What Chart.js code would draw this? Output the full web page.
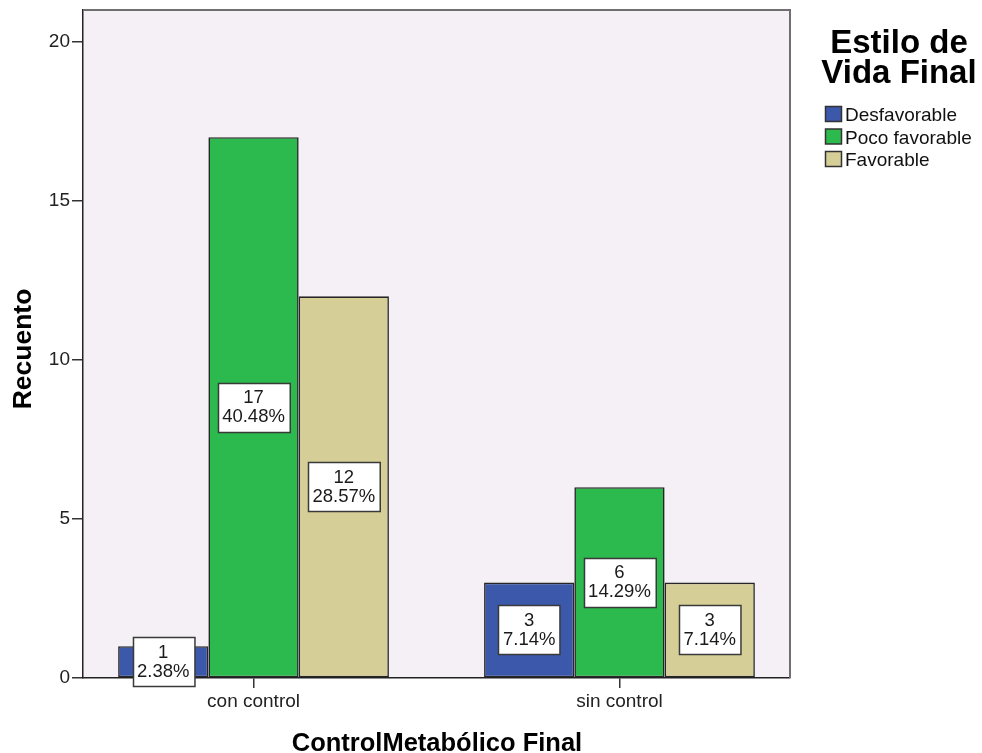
<!DOCTYPE html>
<html>
<head>
<meta charset="utf-8">
<title>Estilo de Vida Final</title>
<script src="https://cdn.jsdelivr.net/npm/chart.js@4/dist/chart.umd.min.js"></script>
<style>
  body { margin: 0; background: #fff; }
  #wrap { width: 982px; height: 753px; }
</style>
</head>
<body>
<div id="wrap"><canvas id="grafico" width="982" height="753"></canvas></div>
<script>
// Datos: recuento por control metabólico y estilo de vida
const categorias = ['con control', 'sin control'];
const desfavorable = [1, 3];
const pocoFavorable = [17, 6];
const favorable = [12, 3];
const yTicks = [0, 5, 10, 15, 20];

const FUENTE = "'Liberation Sans', Arial, sans-serif";
const total = [...desfavorable, ...pocoFavorable, ...favorable].reduce((a, b) => a + b, 0);

// cada serie como puntos {x, y} sobre un eje lineal (0 y 1 = categorías)
function puntos(valores) {
    return valores.map((v, i) => ({ x: i, y: v }));
}

const series = [
    { label: 'Desfavorable', data: puntos(desfavorable), color: '#3b58ab' },
    { label: 'Poco favorable', data: puntos(pocoFavorable), color: '#2cb94d' },
    { label: 'Favorable', data: puntos(favorable), color: '#d6ce97' }
];

// fondo del área de gráfico y marco superior/derecho
const fondoPlugin = {
    id: 'fondo',
    beforeDraw(chart) {
        const { ctx, chartArea: a } = chart;
        ctx.save();
        ctx.fillStyle = '#f5f0f5';
        ctx.fillRect(a.left, a.top, a.right - a.left, a.bottom - a.top);
        ctx.restore();
    },
    afterDraw(chart) {
        const { ctx, chartArea: a } = chart;
        ctx.save();
        ctx.strokeStyle = '#6f6f6f';
        ctx.lineWidth = 2;
        ctx.beginPath();
        ctx.moveTo(a.left, a.top);
        ctx.lineTo(a.right, a.top);
        ctx.lineTo(a.right, a.bottom);
        ctx.stroke();
        ctx.restore();
    }
};

// etiquetas de recuento y porcentaje dentro de cada barra
const etiquetasPlugin = {
    id: 'etiquetas',
    afterDatasetsDraw(chart) {
        const ctx = chart.ctx;
        ctx.save();
        ctx.font = '18.5px ' + FUENTE;
        ctx.textAlign = 'center';
        ctx.textBaseline = 'middle';
        chart.data.datasets.forEach((ds, di) => {
            chart.getDatasetMeta(di).data.forEach((bar, i) => {
                const v = ds.data[i].y;
                const l1 = String(v);
                const l2 = (v / total * 100).toFixed(2) + '%';
                const w = Math.max(ctx.measureText(l1).width, ctx.measureText(l2).width) + 9;
                const h = 49;
                const cy = (bar.y + bar.base) / 2;
                const x0 = Math.round(bar.x - w / 2) + 0.5;
                const y0 = Math.round(cy - h / 2) + 0.5;
                ctx.fillStyle = '#ffffff';
                ctx.fillRect(x0, y0, w, h);
                ctx.strokeStyle = '#3a3a3a';
                ctx.lineWidth = 1.5;
                ctx.strokeRect(x0, y0, w, h);
                ctx.fillStyle = '#1a1a1a';
                ctx.fillText(l1, bar.x, cy - 9);
                ctx.fillText(l2, bar.x, cy + 10);
            });
        });
        ctx.restore();
    }
};

// títulos de ejes y leyenda
const textosPlugin = {
    id: 'textos',
    afterDraw(chart) {
        const { ctx } = chart;
        ctx.save();
        ctx.fillStyle = '#000';
        ctx.textAlign = 'center';
        ctx.textBaseline = 'alphabetic';
        ctx.font = 'bold 25.5px ' + FUENTE;
        ctx.fillText('ControlMetabólico Final', 437, 751);

        ctx.font = 'bold 26.5px ' + FUENTE;
        ctx.save();
        ctx.translate(31, 349);
        ctx.rotate(-Math.PI / 2);
        ctx.fillText('Recuento', 0, 0);
        ctx.restore();

        ctx.font = 'bold 33px ' + FUENTE;
        ctx.fillText('Estilo de', 899, 53);
        ctx.fillText('Vida Final', 899, 83);

        ctx.font = '19px ' + FUENTE;
        ctx.textAlign = 'left';
        series.forEach((s, i) => {
            const y = 106 + i * 22.5;
            ctx.fillStyle = s.color;
            ctx.fillRect(825.5, y + 0.5, 16, 15);
            ctx.strokeStyle = '#333';
            ctx.lineWidth = 1.5;
            ctx.strokeRect(825.5, y + 0.5, 16, 15);
            ctx.fillStyle = '#111';
            ctx.fillText(s.label, 845, y + 15);
        });
        ctx.restore();
    }
};

const ctx = document.getElementById('grafico').getContext('2d');
new Chart(ctx, {
    type: 'bar',
    data: {
        datasets: series.map(s => ({
            label: s.label,
            data: s.data,
            backgroundColor: s.color,
            borderColor: '#262626',
            borderWidth: 1.6,
            borderSkipped: false,
            categoryPercentage: 0.74,
            barPercentage: 1.0
        }))
    },
    options: {
        responsive: false,
        animation: false,
        devicePixelRatio: 1,
        layout: { padding: { top: 10, right: 192, left: 0, bottom: 0 } },
        plugins: {
            legend: { display: false },
            tooltip: { enabled: false }
        },
        scales: {
            x: {
                type: 'linear',
                min: -0.466,
                max: 1.466,
                offset: false,
                afterBuildTicks: (axis) => {
                    axis.ticks = categorias.map((c, i) => ({ value: i }));
                },
                afterFit: (axis) => {
                    axis.height = 75;
                    axis.paddingLeft = 0;
                    axis.paddingRight = 0;
                },
                ticks: {
                    callback: (v) => categorias[v],
                    font: { family: FUENTE, size: 19 },
                    color: '#222',
                    padding: 2,
                    maxRotation: 0
                },
                grid: {
                    offset: false,
                    drawOnChartArea: false,
                    drawTicks: true,
                    tickLength: 10,
                    color: '#333',
                    lineWidth: 1.5
                },
                border: { display: true, color: '#222', width: 1.5 }
            },
            y: {
                min: 0,
                max: 21,
                afterBuildTicks: (axis) => {
                    axis.ticks = yTicks.map(v => ({ value: v }));
                },
                afterFit: (axis) => {
                    axis.width = 83;
                    axis.paddingTop = 0;
                    axis.paddingBottom = 0;
                },
                ticks: {
                    font: { family: FUENTE, size: 19 },
                    color: '#222',
                    padding: 2
                },
                grid: {
                    drawOnChartArea: false,
                    drawTicks: true,
                    tickLength: 11,
                    color: '#333',
                    lineWidth: 1.5
                },
                border: { display: true, color: '#222', width: 1.5 }
            }
        }
    },
    plugins: [fondoPlugin, etiquetasPlugin, textosPlugin]
});
</script>
</body>
</html>
